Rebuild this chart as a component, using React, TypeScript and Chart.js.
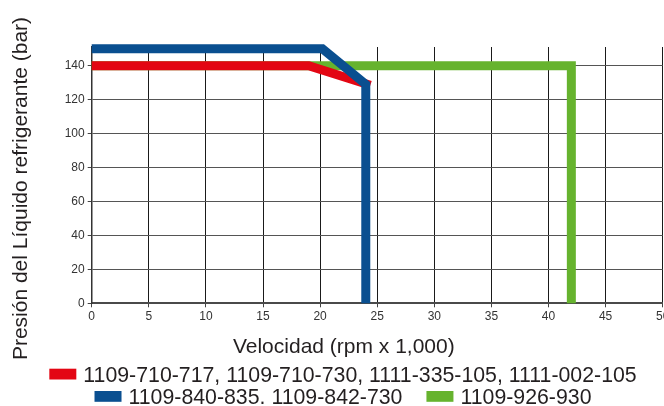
import React, { useEffect, useRef } from "react";
import { Chart, registerables } from "chart.js";

Chart.register(...registerables);

// ---- data ----
const seriesLabels = [
  "1109-710-717, 1109-710-730, 1111-335-105, 1111-002-105",
  "1109-840-835. 1109-842-730",
  "1109-926-930",
];
const seriesColors = ["#E30613", "#0A4F90", "#66B32E"];
const redX = [0, 19, 24.4];
const redY = [140, 140, 128.5];
const blueX = [0, 20.2, 24, 24];
const blueY = [150, 150, 129, 0];
const greenX = [0, 42, 42];
const greenY = [140, 140, 0];
const xTicks = [0, 5, 10, 15, 20, 25, 30, 35, 40, 45, 50];
const yTicks = [0, 20, 40, 60, 80, 100, 120, 140];
const xTitle = "Velocidad (rpm x 1,000)";
const yTitle = "Presión del Líquido refrigerante (bar)";

const FONT = '"Liberation Sans", Arial, Helvetica, sans-serif';
const CW = 686;
const CH = 406;

const toPts = (xs: number[], ys: number[]) => xs.map((x, i) => ({ x, y: ys[i] }));

const overlayPlugin = {
  id: "overlay",
  afterDraw(chart: any) {
    const ctx: CanvasRenderingContext2D = chart.ctx;
    ctx.save();
    ctx.fillStyle = "#231f20";
    ctx.font = `21px ${FONT}`;
    ctx.textBaseline = "alphabetic";
    ctx.textAlign = "center";
    ctx.fillText(xTitle, 343.8, 353.3);
    ctx.save();
    ctx.translate(27, 188.5);
    ctx.rotate(-Math.PI / 2);
    ctx.fillText(yTitle, 0, 0);
    ctx.restore();

    // legend
    const fs = 21.3;
    ctx.font = `${fs}px ${FONT}`;
    ctx.textAlign = "left";
    const boxW = 27;
    const boxH = 10.8;
    const gap = 7;
    const itemGap = 24;
    const maxRow = 630;
    const ds = chart.data.datasets;
    const items = ds.map((d: any, i: number) => ({
      text: d.label as string,
      color: d.borderColor as string,
      w: boxW + gap + ctx.measureText(d.label).width,
      i,
    }));
    const rows: any[][] = [];
    let cur: any[] = [];
    let curW = 0;
    items.forEach((it: any) => {
      const add = cur.length ? itemGap + it.w : it.w;
      if (cur.length && curW + add > maxRow) {
        rows.push(cur);
        cur = [it];
        curW = it.w;
      } else {
        cur.push(it);
        curW += add;
      }
    });
    if (cur.length) rows.push(cur);
    const baselines = [381.7, 404];
    rows.forEach((row, r) => {
      const total = row.reduce((s, it, k) => s + it.w + (k ? itemGap : 0), 0);
      let x = 343 - total / 2;
      const base = baselines[r] ?? 381.7 + r * 22.3;
      row.forEach((it) => {
        ctx.fillStyle = it.color;
        ctx.fillRect(x, base - 13, boxW, boxH);
        ctx.fillStyle = "#231f20";
        ctx.fillText(it.text, x + boxW + gap, base);
        x += it.w + itemGap;
      });
    });
    ctx.restore();
  },
};

export default function App() {
  const ref = useRef<HTMLCanvasElement | null>(null);
  useEffect(() => {
    if (!ref.current) return;
    const chart = new Chart(ref.current, {
      type: "line",
      data: {
        datasets: [
          {
            label: seriesLabels[0],
            data: toPts(redX, redY),
            borderColor: seriesColors[0],
            backgroundColor: seriesColors[0],
            borderWidth: 9,
            order: 1,
            clip: 12,
          },
          {
            label: seriesLabels[1],
            data: toPts(blueX, blueY),
            borderColor: seriesColors[1],
            backgroundColor: seriesColors[1],
            borderWidth: 9,
            order: 0,
            clip: 12,
          },
          {
            label: seriesLabels[2],
            data: toPts(greenX, greenY),
            borderColor: seriesColors[2],
            backgroundColor: seriesColors[2],
            borderWidth: 9,
            order: 2,
            clip: 12,
          },
        ],
      },
      options: {
        responsive: false,
        animation: false,
        devicePixelRatio: 1,
        elements: {
          point: { radius: 0, hoverRadius: 0 },
          line: { tension: 0, borderCapStyle: "butt", borderJoinStyle: "miter", fill: false },
        },
        layout: { padding: { left: 61.7, top: 47, right: CW - 662.7, bottom: CH - 303.3 - 20 } },
        plugins: { legend: { display: false }, tooltip: { enabled: false }, title: { display: false } },
        scales: {
          x: {
            type: "linear",
            min: 0,
            max: 50,
            afterBuildTicks: (s: any) => {
              s.ticks = xTicks.map((v) => ({ value: v }));
            },
            afterFit: (s: any) => {
              s.height = 20;
            },
            grid: { color: "#1a1a1a", lineWidth: 1, tickLength: 4, tickColor: "#444" },
            border: { color: "#4a4a4a", width: 2 },
            ticks: {
              font: { size: 12, family: FONT },
              color: "#333",
              padding: 2,
              maxRotation: 0,
              autoSkip: false,
            },
          },
          y: {
            type: "linear",
            min: 0,
            max: 151,
            afterBuildTicks: (s: any) => {
              s.ticks = yTicks.map((v) => ({ value: v }));
            },
            afterFit: (s: any) => {
              s.width = 30;
            },
            grid: { color: "#555", lineWidth: 1, tickLength: 4, tickColor: "#444" },
            border: { color: "#333", width: 1.5 },
            ticks: {
              font: { size: 12, family: FONT },
              color: "#333",
              padding: 3,
              autoSkip: false,
            },
          },
        },
      },
      plugins: [overlayPlugin],
    } as any);
    return () => chart.destroy();
  }, []);
  return (
    <div style={{ position: "absolute", left: 0, top: 0, width: 664, height: 406, overflow: "hidden", background: "#fff" }}>
      <canvas ref={ref} width={CW} height={CH} style={{ width: CW, height: CH, display: "block" }} />
    </div>
  );
}
